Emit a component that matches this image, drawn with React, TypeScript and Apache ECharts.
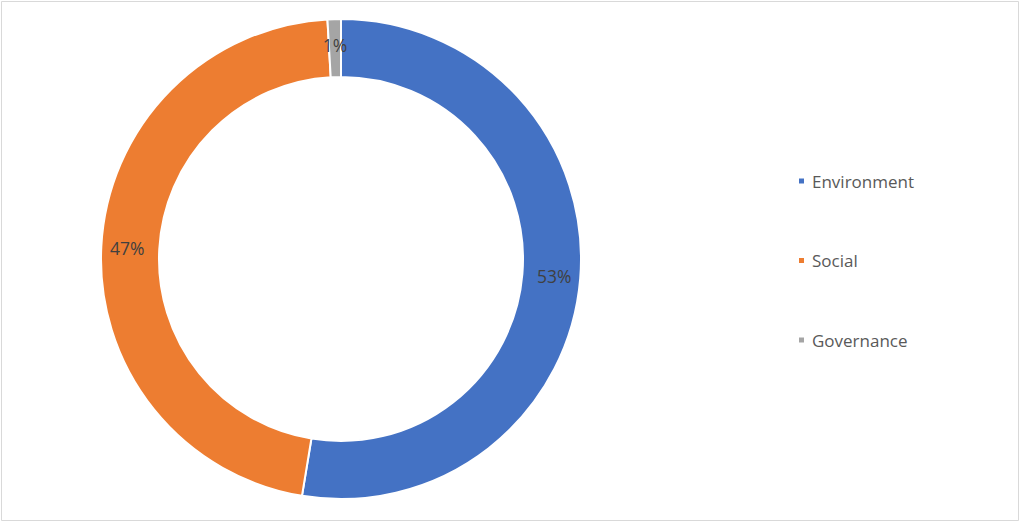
import React, { useEffect, useRef } from "react";
import * as echarts from "echarts";

const categories = ["Environment", "Social", "Governance"];
const values = [52.6, 46.5, 0.9];
const colors = ["#4472C4", "#ED7D31", "#A5A5A5"];

export default function App() {
  const ref = useRef<HTMLDivElement>(null);
  useEffect(() => {
    if (!ref.current) return;
    const chart = echarts.init(ref.current, undefined, { renderer: "svg" });
    chart.setOption({
      animation: false,
      backgroundColor: "#ffffff",
      graphic: [
        {
          type: "rect",
          shape: { x: 1.5, y: 1.5, width: 1017, height: 519 },
          style: { fill: "none", stroke: "#d9d9d9", lineWidth: 1 },
          silent: true,
        },
      ],
      legend: {
        orient: "vertical",
        left: 797,
        top: 171,
        padding: 0,
        itemWidth: 7,
        itemHeight: 7,
        itemGap: 59.5,
        icon: "rect",
        textStyle: {
          fontSize: 17,
          lineHeight: 20,
          color: "#595959",
          fontFamily: "Open Sans",
          padding: [0, 0, 0, 2],
        },
        data: categories,
      },
      series: [
        {
          type: "pie",
          center: [341, 259],
          radius: [182, 240],
          startAngle: 90,
          clockwise: true,
          avoidLabelOverlap: false,
          itemStyle: { borderColor: "#ffffff", borderWidth: 2 },
          label: {
            position: "inside",
            fontSize: 17.5,
            color: "#404040",
            fontFamily: "Open Sans",
            formatter: (p: any) => `${Math.round(p.value)}%`,
          },
          labelLine: { show: false },
          data: categories.map((c, i) => ({
            name: c,
            value: values[i],
            itemStyle: { color: colors[i] },
          })),
        },
      ],
    });
    return () => chart.dispose();
  }, []);
  return (
    <div
      ref={ref}
      style={{ position: "fixed", left: 0, top: 0, width: 1024, height: 525 }}
    />
  );
}
